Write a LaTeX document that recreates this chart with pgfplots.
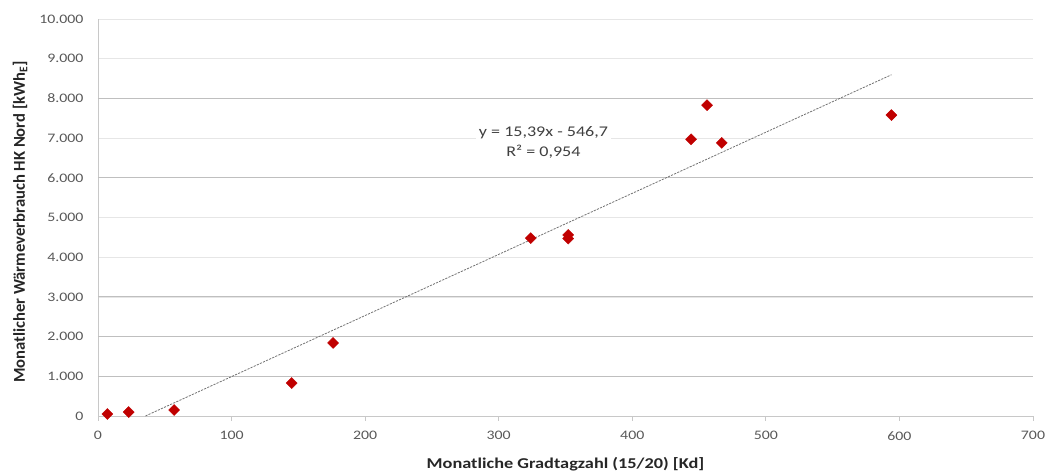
\documentclass[border=0pt]{standalone}
\usepackage{pgfplots}
\pgfplotsset{compat=1.18}
\usepackage{fontspec}
\setmainfont{Carlito}
\newfontfamily\wide{Carlito}[FakeStretch=1.22]
\definecolor{ptred}{HTML}{C00000}
\definecolor{ticktxt}{HTML}{595959}
\definecolor{griddark}{HTML}{BFBFBF}
\definecolor{gridlight}{HTML}{E6E6E6}
\definecolor{axisgray}{HTML}{C8C8C8}

\begin{document}
\begin{tikzpicture}[x=1pt,y=1pt]
\path[use as bounding box] (-98,-57) rectangle (947,416);
\begin{axis}[
  at={(0,0)}, anchor=origin,
  scale only axis,
  width=935pt, height=397pt,
  xmin=0, xmax=700, ymin=0, ymax=10000,
  xtick={0,100,...,700},
  ytick={0,1000,...,10000},
  scaled ticks=false,
  axis lines*=left,
  axis line style={axisgray, line width=0.8pt},
  x tick style={axisgray, line width=0.8pt},
  major tick length=5pt,
  tick align=outside,
  y tick style={draw=none},
  ymajorgrids,
  major grid style={gridlight, line width=0.7pt},
  extra y ticks={1000,2000,3000,6000,8000},
  extra y tick labels={},
  extra y tick style={ymajorgrids, major grid style={griddark, line width=0.8pt}},
  tick label style={font=\wide\fontsize{13}{15}\selectfont, text=ticktxt},
  /pgf/number format/.cd, fixed, 1000 sep={.}, assume math mode=true,
  /pgfplots/.cd,
  xticklabel shift=7pt,
  yticklabel shift=6pt,
  xlabel={Monatliche Gradtagzahl (15/20) [Kd]},
  ylabel={Monatlicher Wärmeverbrauch HK Nord [kWh\textsubscript{E}]},
  xlabel style={font=\wide\bfseries\fontsize{15}{18}\selectfont, text=black!85,
                at={(axis description cs:0.5,-0.1209)}, anchor=center},
  ylabel style={font=\bfseries\fontsize{16.6}{19}\selectfont, text=black!85,
                at={(axis description cs:-0.0834,0.489)}, anchor=center},
  clip=false,
]
% linear trendline y = 15,39x - 546,7
\addplot[black!55, dash pattern=on 2.2pt off 1.2pt, line width=0.8pt]
  coordinates {(35.52,0) (594,8595.0)};
% monthly measurements
\addplot[only marks, mark=square*, mark size=3.9pt,
         mark options={rotate=45, fill=ptred, draw=ptred}]
  coordinates {
    (7,50) (23,100) (57,150) (145,830) (176,1840)
    (324,4480) (352,4470) (352,4560)
    (444,6970) (456,7830) (467,6880) (594,7580)
  };
\node[fill=white, align=center, inner sep=3pt, text=black!75,
      font=\wide\fontsize{14.8}{20}\selectfont]
  at (axis cs:333.5,6900) {y = 15,39x - 546,7\\R² = 0,954};
\end{axis}
\end{tikzpicture}
\end{document}
